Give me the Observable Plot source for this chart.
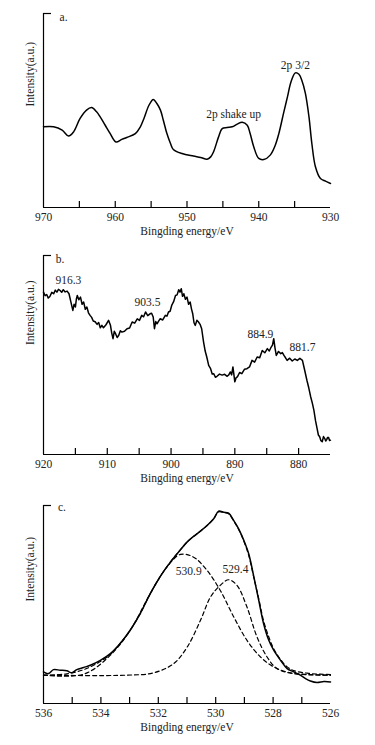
<!DOCTYPE html>
<html><head><meta charset="utf-8">
<script src="https://cdn.jsdelivr.net/npm/d3@7"></script>
<script src="https://cdn.jsdelivr.net/npm/@observablehq/plot@0.6"></script>
<style>
body{margin:0;background:#fff;}
#chart svg{display:block;}
</style></head><body><div id="chart"></div>
<script>
// ---------- Panel a ----------
const energyA = [970.0,968.6,967.4,966.5,965.8,964.9,964.0,963.3,962.6,962.1,961.4,960.7,959.9,959.1,958.4,957.2,956.5,956.0,955.3,954.7,954.2,953.7,953.3,952.8,952.3,951.9,950.7,949.1,948.1,947.2,946.7,946.3,945.6,945.1,944.4,943.7,943.0,942.3,941.6,941.2,940.7,940.0,939.3,938.4,937.7,937.2,936.5,936.0,935.5,934.9,934.4,934.0,933.5,933.0,932.6,932.1,931.4,930.7,930.0];
const intensityA = [41.6,41.6,39.9,36.8,39.0,45.9,50.2,51.5,49.3,46.7,42.4,38.1,33.8,35.1,36.1,38.1,41.6,45.9,52.7,55.7,53.6,50.2,45.0,38.1,33.0,29.9,27.8,26.5,25.8,24.9,26.1,28.7,36.4,40.7,41.2,41.6,43.0,44.0,42.4,38.1,31.3,25.3,24.7,27.0,32.1,38.1,49.3,57.0,64.8,69.4,68.7,65.6,58.8,46.7,33.0,21.0,14.9,13.6,12.4];
const notesA = ["a.", "2p shake up", "2p 3/2"];
const notesAx = [967.2, 943.5, 934.9];
const notesAy = [97.9, 48.1, 73.4];
const labelTicksA = [970, 960, 950, 940, 930];
const minorTicksA = [965, 960, 955, 950, 945, 940, 935];

// ---------- Panel b ----------
const energyB = [920.0,919.75,919.5,919.25,919.0,918.7,918.4,918.15,917.9,917.65,917.4,917.15,916.9,916.6,916.3,916.0,915.7,915.4,915.2,915.0,914.85,914.7,914.45,914.2,913.95,913.7,913.45,913.2,912.95,912.7,912.45,912.2,911.9,911.6,911.35,911.1,910.85,910.6,910.2,909.8,909.65,909.5,909.3,909.1,908.9,908.7,908.45,908.2,907.95,907.7,907.3,906.9,906.5,906.1,905.7,905.3,904.95,904.6,904.3,904.0,903.65,903.3,903.05,902.8,902.6,902.4,902.2,901.95,901.7,901.3,900.9,900.65,900.4,900.15,899.9,899.6,899.3,899.05,898.8,898.6,898.4,898.2,898.0,897.75,897.5,897.25,897.0,896.8,896.6,896.4,896.2,895.95,895.7,895.45,895.2,894.9,894.65,894.4,894.1,893.8,893.55,893.3,893.05,892.8,892.4,892.0,891.6,891.2,890.95,890.7,890.5,890.3,890.0,889.8,889.6,889.25,888.9,888.5,888.1,887.7,887.3,886.9,886.5,886.1,885.7,885.3,884.9,884.6,884.3,884.1,883.9,883.7,883.5,883.15,882.8,882.55,882.3,882.05,881.8,881.4,881.0,880.6,880.2,879.8,879.4,879.1,878.7,878.4,878.1,877.85,877.6,877.35,877.1,876.9,876.7,876.5,876.3,876.1,875.9,875.75,875.6,875.45,875.3,875.15,875.0];
const intensityB = [81.6,79.8,80.4,78.6,79.4,81.5,80.8,82.6,81.6,83.0,82.4,81.5,82.8,81.7,82.1,80.8,76.6,72.4,75.5,74.1,78.0,79.9,77.8,79.1,75.5,76.6,73.0,74.1,71.2,69.9,68.9,67.1,66.7,65.4,66.3,63.7,64.9,63.7,65.2,67.4,66.2,64.9,61.0,58.2,61.9,60.7,58.8,59.9,62.2,61.5,61.9,63.2,63.6,66.6,66.0,68.2,67.4,69.9,69.2,71.6,69.8,70.7,71.0,69.1,63.2,66.8,65.7,67.0,68.2,67.6,69.9,69.5,71.6,72.0,74.9,76.8,79.9,80.2,82.8,81.6,83.3,79.5,80.8,78.0,79.1,75.5,76.6,73.2,70.7,66.2,64.9,67.5,66.6,65.4,63.2,56.5,52.0,49.0,44.8,43.1,40.5,40.6,38.8,39.3,40.4,39.9,40.3,39.3,40.0,41.5,40.0,44.0,36.5,38.6,39.0,41.2,40.6,42.8,43.1,44.0,47.3,46.4,49.0,48.6,52.3,51.1,53.2,52.0,54.0,55.0,58.2,53.5,49.8,51.8,50.7,51.2,49.8,48.6,47.3,48.4,47.0,48.0,47.3,48.3,47.3,43.1,37.3,33.4,28.9,25.8,22.2,17.0,13.0,9.8,8.9,6.9,6.4,9.0,8.0,6.8,7.5,8.6,8.5,7.0,7.2];
const notesB = ["b.", "916.3", "903.5", "884.9", "881.7"];
const notesBx = [917.4, 916.1, 903.7, 886.0, 879.4];
const notesBy = [98.3, 87.5, 76.3, 60.2, 53.7];
const labelTicksB = [920, 910, 900, 890, 880];
const minorTicksB = [915, 910, 905, 900, 895, 890, 885, 880];

// ---------- Panel c ----------
const energyC = [536.0,535.83,535.65,535.42,535.19,535.01,534.84,534.60,534.37,534.02,533.67,533.33,532.98,532.63,532.28,531.93,531.58,531.23,531.00,530.77,530.53,530.30,530.07,529.90,529.72,529.55,529.37,529.20,529.02,528.85,528.67,528.50,528.33,528.15,527.98,527.74,527.51,527.28,527.05,526.87,526.70,526.47,526.23,526.00];
const intensityC = [16.0,15.1,17.1,16.8,16.5,15.5,17.1,18.2,19.3,21.8,25.2,30.3,37.0,45.4,55.5,64.2,71.4,77.6,81.5,84.4,87.1,89.9,93.3,97.1,96.6,96.1,92.4,88.2,82.4,75.6,63.9,52.1,40.3,31.9,26.9,21.8,17.6,16.0,14.3,12.6,11.4,10.6,11.1,10.9];
const energyFit = [536.0,535.19,534.60,534.02,533.67,533.33,532.98,532.63,532.28,531.93,531.58,531.23,531.00,530.77,530.53,530.30,530.07,529.90,529.72,529.55,529.37,529.20,529.02,528.85,528.67,528.50,528.33,528.15,527.98,527.74,527.51,527.28,526.81,526.35,526.00];
const intensityFit = [14.3,15.0,17.1,21.2,24.9,30.3,37.0,45.4,55.5,64.2,71.4,77.6,81.5,84.4,87.1,89.9,93.3,96.8,96.5,95.8,92.1,87.9,82.0,74.8,63.5,52.9,41.7,33.6,27.7,22.2,18.5,16.6,15.3,14.8,14.6];
const energyPeak1 = [536.0,534.6,533.67,532.98,532.28,531.70,531.23,530.77,530.30,529.84,529.37,528.91,528.44,527.98,527.40,526.70,526.0];
const intensityPeak1 = [14.3,14.8,24.4,37.0,55.5,68.9,75.3,73.9,67.2,57.1,43.7,31.9,23.5,18.5,15.5,14.6,14.3];
const energyPeak2 = [536.0,533.1,532.16,531.46,530.99,530.53,530.18,529.84,529.55,529.26,528.91,528.56,528.21,527.86,527.28,526.0];
const intensityPeak2 = [14.3,14.3,15.5,20.2,28.6,42.0,53.8,59.7,62.5,59.7,48.7,33.6,23.5,17.6,15.1,14.3];
const notesC = ["c.", "530.9", "529.4"];
const notesCx = [535.36, 530.94, 529.31];
const notesCy = [99.2, 66.7, 67.6];
const labelTicksC = [536, 534, 532, 530, 528, 526];
const minorTicksC = [535, 534, 533, 532, 531, 530, 529, 528, 527];

const xLabel = "Bingding energy/eV";
const yLabel = "Intensity(a.u.)";

const FONT = "'Liberation Serif', 'Times New Roman', serif";
const W = 375, ML = 43, MR = 45;

function panel(o) {
  const plotH = o.height - o.marginTop - o.marginBottom;
  const plotW = W - ML - MR;
  const lineMarks = o.lines.map(l => Plot.line(l.x.map((x, i) => ({x, y: l.y[i]})), {
    x: "x", y: "y", stroke: "#000", strokeWidth: l.dashed ? 1.2 : 1.5,
    strokeDasharray: l.dashed ? "4,3" : null, curve: o.curve
  }));
  const notes = o.notes.map((t, i) => ({t, x: o.notesX[i], y: o.notesY[i]}));
  return Plot.plot({
    width: W, height: o.height,
    marginLeft: ML, marginRight: MR, marginTop: o.marginTop, marginBottom: o.marginBottom,
    style: {fontFamily: FONT, fontSize: "11.5px", color: "#000", background: "#fff", overflow: "visible"},
    x: {domain: o.domain, axis: null},
    y: {domain: [0, 100], axis: null},
    marks: [
      Plot.ruleY([0], {stroke: "#000", strokeWidth: 1.2}),
      Plot.ruleX([o.domain[0]], {stroke: "#000", strokeWidth: 1.2}),
      Plot.tickY([100], {stroke: "#000", strokeWidth: 1.2, insetRight: plotW - 8}),
      Plot.tickX(o.minorTicks, {x: d => d, stroke: "#000", strokeWidth: 1.2, insetTop: plotH - 6}),
      Plot.text(o.labelTicks, {x: d => d, text: d => String(d), frameAnchor: "bottom", dy: 13, fill: "#222", fontSize: 11.5}),
      Plot.text([xLabel], {frameAnchor: "bottom", dy: 27, fill: "#222", fontSize: 11.5}),
      Plot.text([yLabel], {frameAnchor: "left", dx: -13, dy: o.yLabelDy, rotate: -90, fill: "#222", fontSize: 11.5}),
      ...lineMarks,
      Plot.text(notes, {x: "x", y: "y", text: "t", fill: "#222", fontSize: 11.5})
    ]
  });
}

const chart = document.getElementById("chart");
chart.appendChild(panel({
  height: 245, marginTop: 13, marginBottom: 38, domain: [970, 930], yLabelDy: -4, curve: "catmull-rom",
  lines: [{x: energyA, y: intensityA}],
  notes: notesA, notesX: notesAx, notesY: notesAy,
  labelTicks: labelTicksA, minorTicks: minorTicksA
}));
chart.appendChild(panel({
  height: 247, marginTop: 10, marginBottom: 38, domain: [920, 875], yLabelDy: -10, curve: "linear",
  lines: [{x: energyB, y: intensityB}],
  notes: notesB, notesX: notesBx, notesY: notesBy,
  labelTicks: labelTicksB, minorTicks: minorTicksB
}));
chart.appendChild(panel({
  height: 253, marginTop: 13, marginBottom: 42, domain: [536, 526], yLabelDy: -3, curve: "catmull-rom",
  lines: [
    {x: energyC, y: intensityC},
    {x: energyFit, y: intensityFit, dashed: true},
    {x: energyPeak1, y: intensityPeak1, dashed: true},
    {x: energyPeak2, y: intensityPeak2, dashed: true}
  ],
  notes: notesC, notesX: notesCx, notesY: notesCy,
  labelTicks: labelTicksC, minorTicks: minorTicksC
}));
</script>
</body></html>
